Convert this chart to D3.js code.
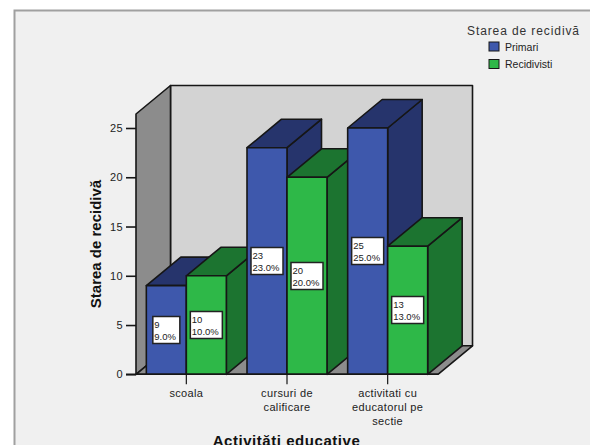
<!DOCTYPE html>
<html>
<head>
	<meta charset="utf-8">
	<title>Starea de recidivă</title>
	<style type="text/css">
		html, body { margin: 0; padding: 0; background: white; overflow: hidden; }
		svg { display: block; font-family: "Liberation Sans", Arial, sans-serif; }
		.tick text { font-size: 11px; fill: #222; letter-spacing: 0.35px; }
		.domain { display: none; }
	</style>
	<script src="https://d3js.org/d3.v7.min.js"></script>
</head>
<body>
<svg id="chart" width="590" height="445"></svg>
<script type="text/javascript">
	var categories = ["scoala", "cursuri de calificare", "activitati cu educatorul pe sectie"];
	var seriesNames = ["Primari", "Recidivisti"];
	var primari = [9, 23, 25];
	var recidivisti = [10, 20, 13];
	var yTicks = [0, 5, 10, 15, 20, 25];
	var percent = ["9.0%", "23.0%", "25.0%"];
	var percentRec = ["10.0%", "20.0%", "13.0%"];

	var faceColors = [
		{ front: "#3e58ac", dark: "#26346c" },
		{ front: "#2eb848", dark: "#1c7430" }
	];
	var depthX = 34.5, depthY = -28.5, barW = 40;
	var edge = "#161616";

	var svg = d3.select("#chart");

	// panel, grey edge only on top and left
	svg.append("rect").attr("x", 14).attr("y", 10).attr("width", 576).attr("height", 435).attr("fill", "#f0f0f0");
	svg.append("path").attr("d", "M14.5,445V10.5H590").attr("fill", "none").attr("stroke", "#a0a0a0").attr("stroke-width", 2);

	var x = d3.scaleBand().domain(categories).range([136, 438]);
	var xSub = d3.scaleBand().domain(seriesNames).range([-barW, barW]);
	var y = d3.scaleLinear().domain([0, 25]).range([374.3, 128]);
	var wallTop = 114;

	function poly(points, fill, sw) {
		svg.append("path")
			.attr("d", d3.line()(points) + "Z")
			.attr("fill", fill)
			.attr("stroke", edge)
			.attr("stroke-width", sw || 1.6)
			.attr("stroke-linejoin", "round");
	}

	var x0 = x.range()[0], x1 = x.range()[1], y0 = y(0);

	// walls and floor
	poly([[x0 + depthX, wallTop + depthY], [x1 + depthX, wallTop + depthY], [x1 + depthX, y0 + depthY], [x0 + depthX, y0 + depthY]], "#d3d3d3");
	poly([[x0, wallTop], [x0 + depthX, wallTop + depthY], [x0 + depthX, y0 + depthY], [x0, y0]], "#8c8c8c");
	poly([[x0, y0], [x0 + depthX, y0 + depthY], [x1 + depthX, y0 + depthY], [x1, y0]], "#8c8c8c");

	var values = [primari, recidivisti];
	var percents = [percent, percentRec];

	// bars, left to right so later ones cover earlier side faces
	categories.forEach(function (c, i) {
		seriesNames.forEach(function (s, j) {
			var v = values[j][i];
			var left = x(c) + x.bandwidth() / 2 + xSub(s);
			var right = left + xSub.bandwidth();
			var top = y(v);
			poly([[right, top], [right + depthX, top + depthY], [right + depthX, y0 + depthY], [right, y0]], faceColors[j].dark);
			poly([[left, top], [left + depthX, top + depthY], [right + depthX, top + depthY], [right, top]], faceColors[j].dark);
			poly([[left, top], [right, top], [right, y0], [left, y0]], faceColors[j].front);
		});
	});

	// value labels
	categories.forEach(function (c, i) {
		seriesNames.forEach(function (s, j) {
			var v = values[j][i];
			var left = x(c) + x.bandwidth() / 2 + xSub(s);
			var w = v < 10 ? 27 : 32;
			var bx = left + (xSub.bandwidth() - w) / 2;
			var by = Math.round(y(v / 2)) - 13.5;
			var g = svg.append("g").attr("transform", "translate(" + bx + "," + by + ")");
			g.append("rect").attr("width", w).attr("height", 27)
				.attr("fill", "white").attr("stroke", "#222").attr("stroke-width", 1.5);
			g.append("text").attr("x", 1.5).attr("y", 11).attr("font-size", 9.5).attr("fill", "#222").text(v);
			g.append("text").attr("x", 1.5).attr("y", 23).attr("font-size", 9.5).attr("fill", "#222").text(percents[j][i]);
		});
	});

	// axes
	var yAxis = svg.append("g").attr("transform", "translate(" + x0 + ",0)")
		.call(d3.axisLeft(y).tickValues(yTicks).tickSize(10).tickPadding(3));
	yAxis.selectAll(".tick line").attr("stroke", edge).attr("stroke-width", 1.6);

	svg.append("line").attr("x1", x0 - 10).attr("x2", x1).attr("y1", y0).attr("y2", y0)
		.attr("stroke", edge).attr("stroke-width", 1.6);

	var xAxis = svg.append("g").attr("transform", "translate(0," + y0 + ")")
		.call(d3.axisBottom(x).tickSize(10).tickPadding(4.5));
	xAxis.selectAll(".tick line").attr("stroke", edge).attr("stroke-width", 1.2);
	xAxis.selectAll(".tick text").call(wrap, 84);

	function wrap(sel, width) {
		sel.each(function () {
			var text = d3.select(this);
			var words = text.text().split(" ");
			var yy = text.attr("y");
			text.text(null);
			var line = [], n = 0;
			var tspan = text.append("tspan").attr("x", 0).attr("y", yy).attr("dy", "0.71em");
			words.forEach(function (w) {
				line.push(w);
				tspan.text(line.join(" "));
				if (tspan.node().getComputedTextLength() > width && line.length > 1) {
					line.pop();
					tspan.text(line.join(" "));
					line = [w];
					n++;
					tspan = text.append("tspan").attr("x", 0).attr("y", yy)
						.attr("dy", (0.71 + n * 1.27) + "em").text(w);
				}
			});
		});
	}

	// axis titles
	svg.append("text").attr("x", 286.5).attr("y", 445.5).attr("text-anchor", "middle")
		.attr("font-size", 15).attr("font-weight", "bold").attr("fill", "#111").attr("letter-spacing", 0.55)
		.text("Activități educative");
	svg.append("text").attr("transform", "translate(101,244) rotate(-90)").attr("text-anchor", "middle")
		.attr("font-size", 15).attr("font-weight", "bold").attr("fill", "#111")
		.text("Starea de recidivă");

	// legend
	svg.append("text").attr("x", 467).attr("y", 35).attr("font-size", 12).attr("letter-spacing", 0.9)
		.attr("fill", "#333").text("Starea de recidivă");
	seriesNames.forEach(function (s, j) {
		var ly = 42 + j * 17.5;
		svg.append("rect").attr("x", 489).attr("y", ly).attr("width", 10).attr("height", 9)
			.attr("fill", faceColors[j].front).attr("stroke", edge).attr("stroke-width", 1);
		svg.append("text").attr("x", 505).attr("y", ly + 8.5).attr("font-size", 10.5).attr("fill", "#222").text(s);
	});
</script>
</body>
</html>
